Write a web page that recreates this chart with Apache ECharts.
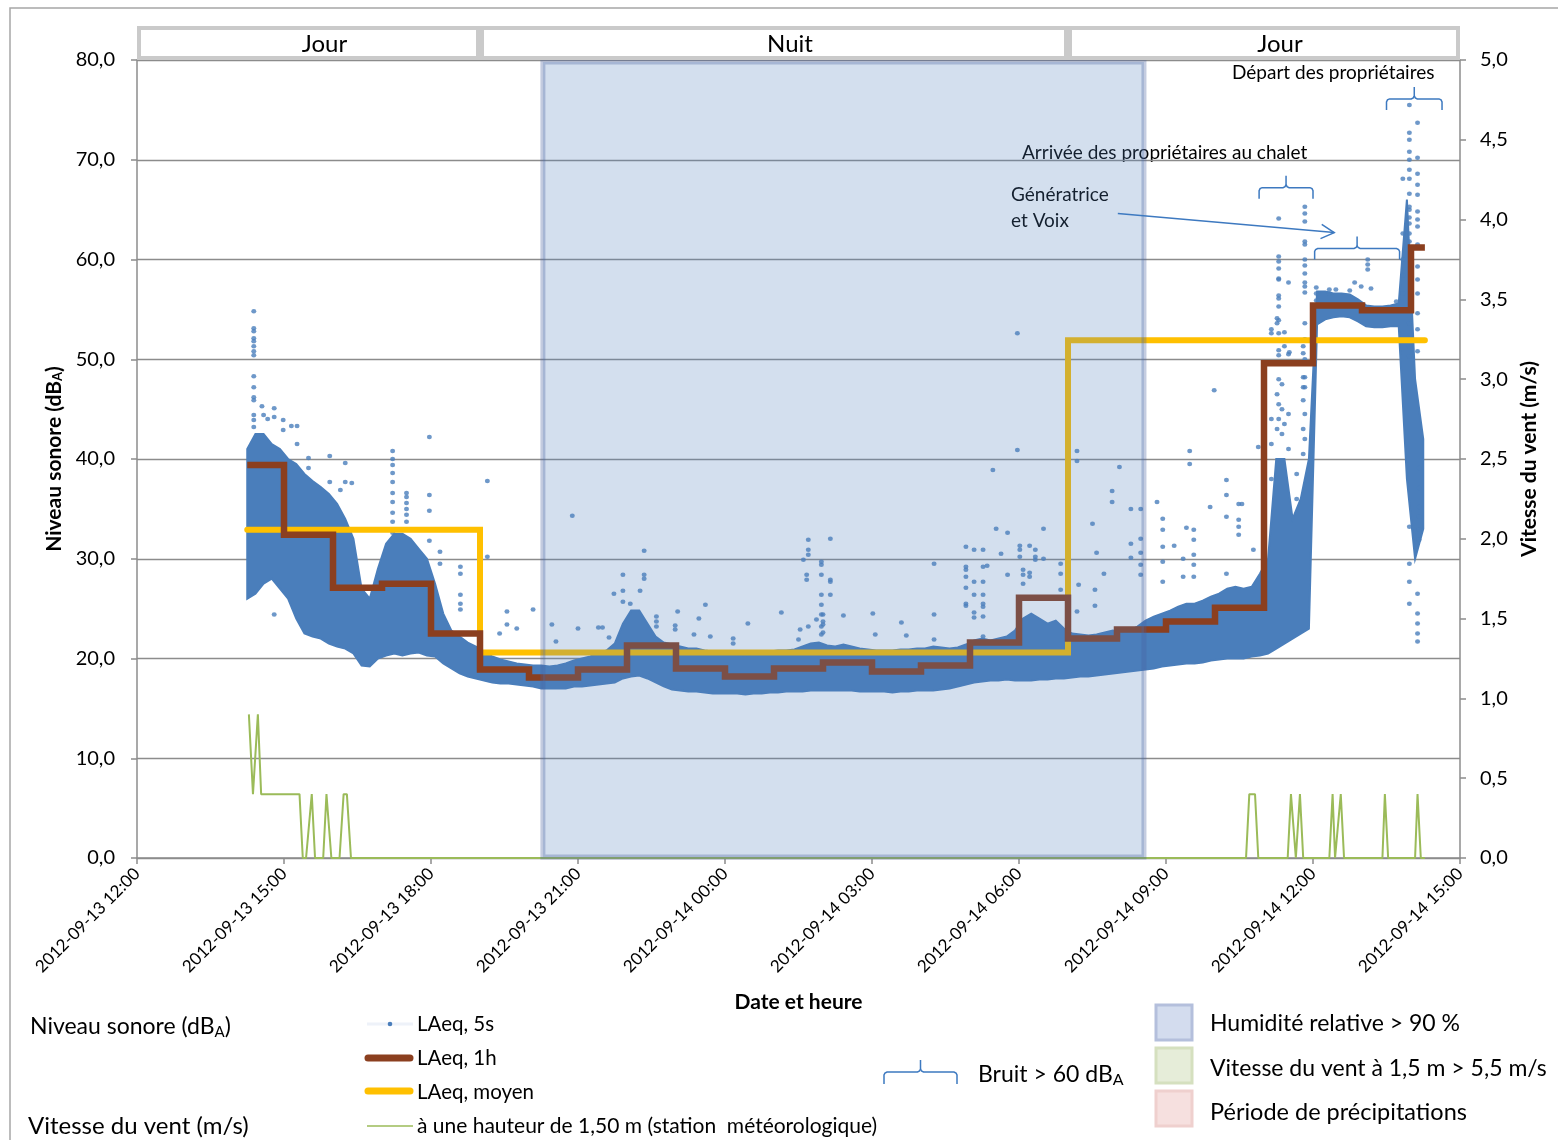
<!DOCTYPE html>
<html>
<head>
<meta charset="utf-8">
<script src="https://cdn.jsdelivr.net/npm/echarts@6/dist/echarts.min.js"></script>
<style>
  html, body { margin: 0; padding: 0; background: #fff; }
  #chart { width: 1558px; height: 1140px; }
</style>
</head>
<body>
<div id="chart"></div>
<script>
// ---- périodes jour / nuit (bandeau du haut)
const periodStarts = ['2012-09-13 12:00', '2012-09-13 19:00', '2012-09-14 07:00'];
const periodEnds = ['2012-09-13 19:00', '2012-09-14 07:00', '2012-09-14 15:00'];
const periodNames = ['Jour', 'Nuit', 'Jour'];

// ---- humidité relative > 90 %
const humidStarts = ['2012-09-13 20:17'];
const humidEnds = ['2012-09-14 08:33'];

// ---- LAeq 5s : coeur dense du nuage, relevé toutes les 10 min à partir de 14:15
const bandStart = '2012-09-13 14:15';
const bandLow = [
  26.0, 26.5, 27.5, 28.0, 27.0, 26.0, 24.0, 22.5, 22.2, 22.0, 21.5, 21.2, 21.0, 20.5, 19.3, 19.2,
  20.0, 20.3, 20.5, 20.3, 20.5, 20.6, 20.3, 20.2, 19.5, 19.0, 18.5, 18.2, 18.0, 17.8, 17.6, 17.5,
  17.5, 17.4, 17.3, 17.2, 17.0, 17.0, 17.0, 17.0, 17.2, 17.2, 17.3, 17.4, 17.5, 17.6, 18.0, 18.2,
  18.3, 18.0, 17.6, 17.2, 16.9, 16.8, 16.7, 16.7, 16.6, 16.5, 16.5, 16.5, 16.5, 16.4, 16.5, 16.5,
  16.6, 16.6, 16.7, 16.7, 16.7, 16.8, 16.8, 16.8, 16.8, 16.8, 16.8, 16.7, 16.7, 16.7, 16.7, 16.6,
  16.7, 16.7, 16.8, 16.8, 16.8, 16.9, 17.0, 17.2, 17.4, 17.6, 17.7, 17.8, 17.8, 17.9, 17.8, 17.8,
  17.8, 17.9, 17.9, 18.0, 18.0, 18.1, 18.2, 18.2, 18.3, 18.4, 18.5, 18.6, 18.7, 18.8, 18.9, 19.0,
  19.2, 19.3, 19.4, 19.5, 19.5, 19.6, 19.8, 19.9, 20.0, 20.0, 20.0, 20.2, 20.3, 20.5, 21.0, 21.5,
  22.0, 22.5, 23.0, 53.5, 54.0, 54.2, 54.3, 54.2, 53.8, 53.3, 53.2, 53.2, 53.3, 53.3, 38.0, 30.0,
  33.0
];
const bandHigh = [
  41.0, 42.5, 42.5, 41.5, 41.0, 40.0, 39.5, 38.5, 37.8, 37.2, 36.5, 35.5, 34.0, 32.0, 27.0, 26.0,
  29.0, 31.5, 32.5, 32.5, 32.0, 31.0, 30.0, 27.5, 24.5, 22.8, 22.2, 21.6, 21.2, 20.6, 20.2, 19.9,
  19.7, 19.5, 19.4, 19.3, 19.3, 19.2, 19.3, 19.5, 19.8, 20.0, 20.2, 20.5, 20.8, 21.5, 23.5, 24.8,
  24.8, 23.5, 22.2, 21.6, 21.4, 21.2, 21.0, 21.0, 20.8, 20.7, 20.6, 20.5, 20.4, 20.3, 20.5, 20.6,
  20.7, 20.8, 20.8, 20.9, 21.2, 21.5, 21.6, 21.3, 21.2, 21.4, 21.2, 21.0, 20.9, 20.8, 20.8, 20.8,
  20.9, 20.9, 21.0, 21.0, 21.2, 21.1, 21.0, 21.1, 21.4, 21.8, 22.0, 21.8, 22.0, 22.2, 22.8, 24.0,
  24.5, 24.0, 23.5, 23.8, 23.0, 22.5, 22.4, 22.3, 22.4, 22.6, 22.8, 22.6, 22.8, 23.2, 23.8, 24.2,
  24.5, 24.8, 25.2, 25.5, 25.5, 25.8, 26.2, 26.5, 27.0, 27.2, 27.0, 27.2, 28.5, 30.0, 40.0, 40.0,
  34.0, 36.0, 40.0, 56.8, 56.8, 56.6, 56.6, 56.5, 56.0, 55.4, 55.3, 55.3, 55.4, 55.6, 66.0, 48.0,
  42.0
];

// ---- LAeq 5s : points isolés au-dessus / au-dessous du coeur
const spikes = [
  ['2012-09-13 14:23', [54.8, 53.1, 52.8, 52.1, 51.8, 51.3, 50.8, 50.4, 48.3, 47.2, 46.2, 45.9, 44.4, 43.9, 43.2]],
  ['2012-09-13 14:33', [45.3]], ['2012-09-13 14:35', [44.4]], ['2012-09-13 14:40', [44.0]],
  ['2012-09-13 14:48', [45.1, 44.2, 24.4]], ['2012-09-13 14:59', [43.9, 42.9]],
  ['2012-09-13 15:09', [43.3]], ['2012-09-13 15:16', [43.3, 41.5]], ['2012-09-13 15:30', [40.1, 39.1]],
  ['2012-09-13 15:56', [40.3, 37.7]], ['2012-09-13 16:09', [36.9]], ['2012-09-13 16:15', [39.6, 37.7]],
  ['2012-09-13 16:23', [37.6]],
  ['2012-09-13 17:13', [40.8, 40.0, 39.4, 38.6, 37.7, 36.6, 35.7, 34.6, 33.7, 32.6]],
  ['2012-09-13 17:30', [36.6, 36.2, 35.6, 35.0, 34.4, 33.7]],
  ['2012-09-13 17:58', [42.2, 36.4, 34.8, 31.8]], ['2012-09-13 18:11', [30.7, 29.5]],
  ['2012-09-13 18:36', [29.2, 28.5, 26.4, 25.5, 24.9]], ['2012-09-13 19:09', [37.8, 30.2]],
  ['2012-09-13 19:24', [22.5]], ['2012-09-13 19:33', [24.7, 23.4]], ['2012-09-13 19:45', [23.0]],
  ['2012-09-13 20:05', [24.9]], ['2012-09-13 20:28', [23.4]], ['2012-09-13 20:33', [21.7]],
  ['2012-09-13 20:53', [34.3]], ['2012-09-13 21:00', [23.0]], ['2012-09-13 21:25', [23.1]],
  ['2012-09-13 21:30', [23.1]], ['2012-09-13 21:38', [22.1]], ['2012-09-13 21:44', [26.5]],
  ['2012-09-13 21:55', [28.4, 26.8, 25.7]], ['2012-09-13 22:04', [25.5]], ['2012-09-13 22:16', [26.8]],
  ['2012-09-13 22:21', [30.8, 28.4, 28.0]], ['2012-09-13 22:36', [24.2, 23.7, 23.2]],
  ['2012-09-13 22:59', [23.3, 22.9]], ['2012-09-13 23:02', [24.7]], ['2012-09-13 23:22', [22.4]],
  ['2012-09-13 23:28', [24.0]], ['2012-09-13 23:36', [25.4]], ['2012-09-13 23:42', [22.2]],
  ['2012-09-14 00:10', [22.0, 21.5]], ['2012-09-14 00:28', [23.5]], ['2012-09-14 01:09', [24.6]],
  ['2012-09-14 01:30', [21.9]], ['2012-09-14 01:32', [22.9]], ['2012-09-14 01:36', [29.9]],
  ['2012-09-14 01:40', [28.4, 27.9]], ['2012-09-14 01:42', [31.9, 30.9, 30.4, 23.2]],
  ['2012-09-14 01:52', [23.9]], ['2012-09-14 01:58', [29.7, 29.4, 28.4, 26.4, 25.4, 24.4, 23.2, 22.4]],
  ['2012-09-14 02:00', [24.4, 23.7, 23.4, 22.6]], ['2012-09-14 02:09', [32.0, 27.9, 27.7, 26.4]],
  ['2012-09-14 02:25', [24.3]], ['2012-09-14 03:01', [24.5]], ['2012-09-14 03:04', [22.4]],
  ['2012-09-14 03:36', [23.6]], ['2012-09-14 03:42', [22.3]], ['2012-09-14 04:16', [29.5, 24.4, 21.9]],
  ['2012-09-14 04:55', [31.2, 29.2, 28.9, 28.2, 27.1, 25.5, 25.3]],
  ['2012-09-14 05:05', [30.9, 27.7, 26.4, 24.6, 24.1]],
  ['2012-09-14 05:16', [30.9, 29.2, 27.7, 26.4, 25.5, 25.2, 24.2, 22.2]],
  ['2012-09-14 05:21', [29.3]], ['2012-09-14 05:28', [38.9]], ['2012-09-14 05:32', [33.0]],
  ['2012-09-14 05:38', [30.5]], ['2012-09-14 05:46', [32.6, 28.4]], ['2012-09-14 05:58', [52.6, 40.9]],
  ['2012-09-14 06:01', [31.3, 30.9, 30.2]], ['2012-09-14 06:05', [28.9, 28.4, 27.5]],
  ['2012-09-14 06:13', [31.3, 28.6, 28.2]], ['2012-09-14 06:20', [30.9, 30.2, 29.9]],
  ['2012-09-14 06:30', [33.0, 30.0]], ['2012-09-14 06:51', [29.5, 28.5, 26.9]],
  ['2012-09-14 07:11', [40.8, 39.8, 24.7]], ['2012-09-14 07:13', [27.4]], ['2012-09-14 07:30', [33.5]],
  ['2012-09-14 07:33', [26.9, 25.3]], ['2012-09-14 07:35', [30.6]], ['2012-09-14 07:44', [28.5]],
  ['2012-09-14 07:54', [36.8, 35.7]], ['2012-09-14 08:03', [39.2]], ['2012-09-14 08:17', [35.0, 31.5, 30.1]],
  ['2012-09-14 08:29', [35.0, 32.0, 30.6, 29.4, 28.4]], ['2012-09-14 08:49', [35.7]],
  ['2012-09-14 08:56', [34.0, 32.9, 31.2, 29.7, 27.7]], ['2012-09-14 09:10', [31.3]],
  ['2012-09-14 09:21', [30.0, 28.2]], ['2012-09-14 09:25', [33.1]], ['2012-09-14 09:29', [40.8, 39.5]],
  ['2012-09-14 09:34', [32.9, 31.9, 30.4, 29.4, 28.2]], ['2012-09-14 09:54', [35.2]],
  ['2012-09-14 09:59', [46.9]], ['2012-09-14 10:14', [37.9, 36.4, 34.2, 28.5]],
  ['2012-09-14 10:29', [35.5, 33.9, 33.2, 32.4]], ['2012-09-14 10:33', [35.5]],
  ['2012-09-14 10:47', [30.9]], ['2012-09-14 10:53', [41.2]],
  ['2012-09-14 11:09', [53.0, 52.6, 44.0, 41.5, 38.0]], ['2012-09-14 11:16', [54.1, 53.6, 46.5, 43.0]],
  ['2012-09-14 11:18', [64.1, 60.3, 59.8, 59.1, 58.1, 58.0, 56.4, 56.1, 55.3, 53.9, 52.6, 50.9, 50.4, 48.0, 45.5, 44.0]],
  ['2012-09-14 11:22', [47.5, 45.0, 42.5]], ['2012-09-14 11:25', [52.7, 51.3, 43.5]],
  ['2012-09-14 11:30', [57.7, 50.5, 44.5, 41.0]], ['2012-09-14 11:31', [50.7]],
  ['2012-09-14 11:40', [38.5, 36.0]], ['2012-09-14 11:48', [51.3, 50.6, 48.2, 47.2, 45.9, 43.0, 40.5]],
  ['2012-09-14 11:50', [65.3, 64.6, 63.8, 61.8, 61.5, 60.0, 59.4, 58.6, 57.7, 57.3, 56.7, 53.6, 52.0, 50.0, 48.2, 47.2, 44.5, 42.0]],
  ['2012-09-14 12:04', [57.2, 56.6, 55.9]], ['2012-09-14 12:20', [57.0, 56.6]], ['2012-09-14 12:28', [57.0]],
  ['2012-09-14 12:45', [56.9]], ['2012-09-14 12:51', [57.7]], ['2012-09-14 12:59', [57.3]],
  ['2012-09-14 13:07', [60.0, 59.5, 59.0]], ['2012-09-14 13:11', [57.1]], ['2012-09-14 13:42', [55.8]],
  ['2012-09-14 13:50', [68.1, 62.6, 60.0, 58.4, 56.6]],
  ['2012-09-14 13:58', [75.5, 72.7, 72.0, 70.8, 70.0, 69.0, 68.1, 66.6, 65.3, 65.0, 64.2, 63.6, 62.6, 61.8, 60.0, 58.3, 57.0, 55.9, 53.6, 51.3, 50.3, 33.2, 29.5, 27.7, 25.5]],
  ['2012-09-14 14:08', [73.7, 70.2, 68.6, 67.5, 66.5, 64.8, 64.0, 63.3, 61.5, 59.3, 58.0, 56.6, 54.6, 53.0, 51.9, 50.8, 26.5, 24.5, 23.5, 22.5, 21.7]],
  ['2012-09-14 14:10', [39.1, 37.1, 35.2, 34.2, 32.9, 31.9]]
];

// ---- LAeq 1h (paliers horaires) ; dernier point = fin de mesure
const laeq1hTimes = [
  '2012-09-13 14:15', '2012-09-13 15:00', '2012-09-13 16:00', '2012-09-13 17:00', '2012-09-13 18:00',
  '2012-09-13 19:00', '2012-09-13 20:00', '2012-09-13 21:00', '2012-09-13 22:00', '2012-09-13 23:00',
  '2012-09-14 00:00', '2012-09-14 01:00', '2012-09-14 02:00', '2012-09-14 03:00', '2012-09-14 04:00',
  '2012-09-14 05:00', '2012-09-14 06:00', '2012-09-14 07:00', '2012-09-14 08:00', '2012-09-14 09:00',
  '2012-09-14 10:00', '2012-09-14 11:00', '2012-09-14 12:00', '2012-09-14 13:00', '2012-09-14 14:00',
  '2012-09-14 14:17'
];
const laeq1hValues = [
  39.4, 32.4, 27.1, 27.5, 22.5, 18.9, 18.1, 18.9, 21.3, 19.0, 18.2, 19.0, 19.6, 18.7, 19.3,
  21.6, 26.1, 22.0, 22.9, 23.7, 25.1, 49.6, 55.4, 54.9, 61.2, 61.2
];

// ---- LAeq moyen (par période)
const laeqMeanTimes = ['2012-09-13 14:15', '2012-09-13 19:00', '2012-09-14 07:00', '2012-09-14 14:17'];
const laeqMeanValues = [32.9, 20.6, 51.9, 51.9];

// ---- vitesse du vent à 1,50 m (m/s)
const windTimes = [
  '2012-09-13 14:17', '2012-09-13 14:22', '2012-09-13 14:28', '2012-09-13 14:32', '2012-09-13 15:19',
  '2012-09-13 15:23', '2012-09-13 15:27', '2012-09-13 15:34', '2012-09-13 15:38', '2012-09-13 15:48',
  '2012-09-13 15:52', '2012-09-13 15:58', '2012-09-13 16:08', '2012-09-13 16:13', '2012-09-13 16:17',
  '2012-09-13 16:22', '2012-09-14 10:38', '2012-09-14 10:42', '2012-09-14 10:49', '2012-09-14 10:53',
  '2012-09-14 11:29', '2012-09-14 11:33', '2012-09-14 11:39', '2012-09-14 11:44', '2012-09-14 11:48',
  '2012-09-14 12:20', '2012-09-14 12:24', '2012-09-14 12:27', '2012-09-14 12:34', '2012-09-14 12:38',
  '2012-09-14 13:25', '2012-09-14 13:28', '2012-09-14 13:32', '2012-09-14 14:05', '2012-09-14 14:08',
  '2012-09-14 14:12', '2012-09-14 14:17'
];
const windValues = [
  0.9, 0.4, 0.9, 0.4, 0.4, 0, 0, 0.4, 0, 0, 0.4, 0, 0, 0.4, 0.4, 0,
  0, 0.4, 0.4, 0, 0, 0.4, 0, 0.4, 0, 0, 0.4, 0, 0.4, 0, 0, 0.4, 0, 0, 0.4, 0, 0
];

// ---- annotations : accolades "Bruit > 60 dBA" [début, fin, niveau] et flèche
const braceStarts = ['2012-09-14 10:54', '2012-09-14 12:02', '2012-09-14 13:30'];
const braceEnds = ['2012-09-14 12:00', '2012-09-14 13:46', '2012-09-14 14:38'];
const braceLevels = [67.2, 61.1, 76.1];
const arrowFrom = ['2012-09-14 08:01', 64.6];
const arrowTo = ['2012-09-14 12:26', 62.7];

// ---------------------------------------------------------------------------
const FONT = 'Lato, "Open Sans", "DejaVu Sans", sans-serif';
const BLUE = '#4a7ebb';
const GRID = '#8c8c8c';
const BRACE = '#3d79c0';
const MIN = 60000;

function ms(s) {
  const [d, h] = s.split(' ');
  const [Y, M, D] = d.split('-').map(Number);
  const [hh, mm] = h.split(':').map(Number);
  return Date.UTC(Y, M - 1, D, hh, mm);
}
const pad = (n) => String(n).padStart(2, '0');
function fmtDate(v) {
  const d = new Date(v);
  return d.getUTCFullYear() + '-' + pad(d.getUTCMonth() + 1) + '-' + pad(d.getUTCDate()) + ' ' +
    pad(d.getUTCHours()) + ':' + pad(d.getUTCMinutes());
}
const comma = (v) => v.toFixed(1).replace('.', ',');

const bandTimes = bandLow.map((_, i) => ms(bandStart) + i * 10 * MIN);
const spikeData = spikes.flatMap(([t, vals]) => vals.map((v) => [ms(t), v]));

// accolade : deux demi-polylignes (gauche, droite) autour du sommet central
function braceHalves(x1, x2, y, up, down) {
  const xm = (x1 + x2) / 2, r = 3;
  return [
    [[x1, y + down], [x1, y + r], [x1 + 1, y + 1], [x1 + r, y], [xm - r, y], [xm - 1, y - 1], [xm, y - r], [xm, y - up]],
    [[xm, y - r], [xm + 1, y - 1], [xm + r, y], [x2 - r, y], [x2 - 1, y + 1], [x2, y + r], [x2, y + down]]
  ];
}
function braceEls(x1, x2, y, up, down) {
  return braceHalves(x1, x2, y, up, down).map((pts) => ({
    type: 'polyline', silent: true, shape: { points: pts },
    style: { fill: null, stroke: BRACE, lineWidth: 1.5 }
  }));
}

function txt(x, y, text, size, extra) {
  return {
    type: 'text', x: x, y: y, silent: true,
    style: Object.assign({
      text: text, fontSize: size, fontFamily: FONT, fill: '#000', verticalAlign: 'middle'
    }, extra || {})
  };
}
const subRich = (size, subSize, weight) => ({
  n: { fontSize: size, fontFamily: FONT, fontWeight: weight || 'normal', color: '#000' },
  s: { fontSize: subSize, fontFamily: FONT, fontWeight: weight || 'normal', color: '#000',
       padding: [Math.round(size * 0.45), 0, 0, 0] }
});

const chart = echarts.init(document.getElementById('chart'), null, { renderer: 'canvas' });

chart.setOption({
  animation: false,
  backgroundColor: '#fff',
  grid: { left: 137, right: 98, top: 60, bottom: 282, containLabel: false },
  xAxis: {
    type: 'value',
    min: ms('2012-09-13 12:00'),
    max: ms('2012-09-14 15:00'),
    interval: 180 * MIN,
    axisLine: { show: true, onZero: false, lineStyle: { color: GRID, width: 1.5 } },
    axisTick: { show: true, length: 6, lineStyle: { color: GRID, width: 1.5 } },
    splitLine: { show: false },
    axisLabel: { rotate: 45, margin: 13, fontSize: 17, fontFamily: FONT, color: '#000', formatter: fmtDate },
    name: 'Date et heure',
    nameLocation: 'middle',
    nameGap: 134,
    nameTextStyle: { fontSize: 21, fontWeight: 'bold', fontFamily: FONT, color: '#000' }
  },
  yAxis: [
    {
      type: 'value', min: 0, max: 80, interval: 10, position: 'left',
      axisLine: { show: true, lineStyle: { color: GRID, width: 1.5 } },
      axisTick: { show: true, length: 6, lineStyle: { color: GRID, width: 1.5 } },
      splitLine: { show: true, lineStyle: { color: GRID, width: 1.3 } },
      axisLabel: { margin: 22, fontSize: 20, fontFamily: FONT, color: '#000', formatter: comma },
      name: '{n|Niveau sonore (dB}{s|A}{n|)}',
      nameLocation: 'middle', nameRotate: 90, nameGap: 71,
      nameTextStyle: { rich: subRich(21, 13, 'bold') }
    },
    {
      type: 'value', min: 0, max: 5, interval: 0.5, position: 'right',
      axisLine: { show: true, lineStyle: { color: GRID, width: 1.5 } },
      axisTick: { show: true, length: 6, lineStyle: { color: GRID, width: 1.5 } },
      splitLine: { show: false },
      axisLabel: { margin: 20, fontSize: 20, fontFamily: FONT, color: '#000', formatter: comma },
      name: 'Vitesse du vent (m/s)',
      nameLocation: 'middle', nameRotate: 90, nameGap: 59,
      nameTextStyle: { fontSize: 21, fontWeight: 'bold', fontFamily: FONT, color: '#000' }
    }
  ],
  series: [
    {
      // coeur dense du nuage LAeq 5s
      name: 'LAeq, 5s (coeur)', type: 'custom', z: 2, silent: true,
      data: bandTimes.map((t, i) => [t, bandLow[i], bandHigh[i]]),
      encode: { x: 0, y: [1, 2] },
      renderItem(params, api) {
        if (params.dataIndex !== 0) return null;
        const top = bandTimes.map((t, i) => api.coord([t, bandHigh[i]]));
        const bottom = bandTimes.map((t, i) => api.coord([t, bandLow[i]])).reverse();
        return {
          type: 'polygon',
          shape: { points: top.concat(bottom) },
          style: { fill: BLUE, stroke: BLUE, lineWidth: 2 }
        };
      }
    },
    {
      name: 'LAeq, 5s', type: 'scatter', z: 3, silent: true,
      symbol: 'circle', symbolSize: [5, 4.5],
      itemStyle: { color: BLUE },
      data: spikeData
    },
    {
      name: 'LAeq, moyen', type: 'line', z: 4, silent: true, step: 'end', showSymbol: false,
      lineStyle: { color: '#ffc000', width: 6, cap: 'round', join: 'miter' },
      data: laeqMeanTimes.map((t, i) => [ms(t), laeqMeanValues[i]])
    },
    {
      name: 'LAeq, 1h', type: 'line', z: 5, silent: true, step: 'end', showSymbol: false,
      lineStyle: { color: '#8b3f1f', width: 6.5, cap: 'butt', join: 'miter' },
      data: laeq1hTimes.map((t, i) => [ms(t), laeq1hValues[i]])
    },
    {
      name: 'Vent', type: 'line', yAxisIndex: 1, z: 5, silent: true, showSymbol: false,
      lineStyle: { color: '#9bbb59', width: 2 },
      data: windTimes.map((t, i) => [ms(t), windValues[i]])
    },
    {
      // humidité relative > 90 % (voile par-dessus les données)
      name: 'Humidité', type: 'custom', z: 8, silent: true, clip: false,
      data: humidStarts.map((s, i) => [ms(s), ms(humidEnds[i])]),
      encode: { x: [0, 1] },
      renderItem(params, api) {
        const a = api.coord([api.value(0), 80]);
        const b = api.coord([api.value(1), 0]);
        return {
          type: 'rect',
          shape: { x: a[0], y: a[1] + 2, width: b[0] - a[0], height: b[1] - a[1] - 3 },
          style: { fill: 'rgba(79,129,189,0.25)', stroke: 'rgba(70,95,160,0.32)', lineWidth: 5 }
        };
      }
    },
    {
      // bandeau Jour / Nuit
      name: 'Périodes', type: 'custom', z: 8, silent: true, clip: false,
      data: periodStarts.map((s, i) => [ms(s), ms(periodEnds[i])]),
      encode: { x: [0, 1] },
      renderItem(params, api) {
        const x1 = api.coord([api.value(0), 80])[0];
        const x2 = api.coord([api.value(1), 80])[0];
        const top = params.coordSys.y;
        return {
          type: 'group',
          children: [
            {
              type: 'rect',
              shape: { x: x1 + 2, y: top - 32, width: x2 - x1 - 4, height: 30 },
              style: { fill: '#fff', stroke: '#cacaca', lineWidth: 4 }
            },
            {
              type: 'text',
              style: {
                text: periodNames[params.dataIndex], x: (x1 + x2) / 2 + 16, y: top - 16,
                align: 'center', verticalAlign: 'middle', fontSize: 24, fontFamily: FONT, fill: '#000'
              }
            }
          ]
        };
      }
    },
    {
      // accolades bruit > 60 dBA
      name: 'Bruit > 60 dBA', type: 'custom', z: 9, silent: true, clip: false,
      data: braceStarts.map((s, i) => [ms(s), ms(braceEnds[i]), braceLevels[i]]),
      encode: { x: [0, 1], y: 2 },
      renderItem(params, api) {
        const p1 = api.coord([api.value(0), api.value(2)]);
        const p2 = api.coord([api.value(1), api.value(2)]);
        return { type: 'group', children: braceEls(p1[0], p2[0], p1[1], 12, 11) };
      }
    },
    {
      name: 'Flèche', type: 'custom', z: 9, silent: true, clip: false,
      data: [[ms(arrowFrom[0]), arrowFrom[1], ms(arrowTo[0]), arrowTo[1]]],
      encode: { x: [0, 2], y: [1, 3] },
      renderItem(params, api) {
        const a = api.coord([api.value(0), api.value(1)]);
        const b = api.coord([api.value(2), api.value(3)]);
        const ang = Math.atan2(b[1] - a[1], b[0] - a[0]);
        const L = 15, w = 0.5;
        const h1 = [b[0] - L * Math.cos(ang - w), b[1] - L * Math.sin(ang - w)];
        const h2 = [b[0] - L * Math.cos(ang + w), b[1] - L * Math.sin(ang + w)];
        return {
          type: 'group',
          children: [
            { type: 'line', shape: { x1: a[0], y1: a[1], x2: b[0], y2: b[1] },
              style: { stroke: BRACE, lineWidth: 1.5 } },
            { type: 'polyline', shape: { points: [h1, b, h2] },
              style: { fill: null, stroke: BRACE, lineWidth: 1.5 } }
          ]
        };
      }
    }
  ],
  graphic: [
    // cadre extérieur
    { type: 'rect', z: -10, silent: true, shape: { x: 10, y: 8, width: 1600, height: 1200 },
      style: { fill: null, stroke: '#a6a6a6', lineWidth: 1.5 } },
    // textes d'annotation
    txt(1232, 73, 'Départ des propriétaires', 19),
    txt(1022, 153, 'Arrivée des propriétaires au chalet', 19),
    txt(1011, 195, 'Génératrice', 19),
    txt(1011, 221, 'et Voix', 19),
    // légende gauche
    txt(30, 1027, '{n|Niveau sonore (dB}{s|A}{n|)}', 23, { rich: subRich(23, 15) }),
    txt(28, 1126, 'Vitesse du vent (m/s)', 24),
    { type: 'line', silent: true, shape: { x1: 367, y1: 1024, x2: 413, y2: 1024 },
      style: { stroke: '#eef2f9', lineWidth: 3 } },
    { type: 'circle', silent: true, shape: { cx: 390, cy: 1024, r: 2.3 }, style: { fill: BLUE } },
    txt(417, 1024, 'LAeq, 5s', 20.5),
    { type: 'line', silent: true, shape: { x1: 368, y1: 1058, x2: 410, y2: 1058 },
      style: { stroke: '#8b3f1f', lineWidth: 7, lineCap: 'round' } },
    txt(417, 1058, 'LAeq, 1h', 20.5),
    { type: 'line', silent: true, shape: { x1: 368, y1: 1091, x2: 410, y2: 1091 },
      style: { stroke: '#ffc000', lineWidth: 7, lineCap: 'round' } },
    txt(417, 1092, 'LAeq, moyen', 20.5),
    { type: 'line', silent: true, shape: { x1: 367, y1: 1126, x2: 413, y2: 1126 },
      style: { stroke: '#9bbb59', lineWidth: 1.5 } },
    txt(417, 1126, 'à une hauteur de 1,50 m (station  météorologique)', 21),
    // légende accolade
    ...braceEls(884, 957, 1072, 12, 12),
    txt(978, 1075, '{n|Bruit > 60 dB}{s|A}', 23, { rich: subRich(23, 16) }),
    // légende carrés
    { type: 'rect', silent: true, shape: { x: 1156, y: 1005, width: 36, height: 35 },
      style: { fill: '#d3dcee', stroke: '#b4bfdc', lineWidth: 3 } },
    txt(1210, 1024, 'Humidité relative > 90 %', 23),
    { type: 'rect', silent: true, shape: { x: 1156, y: 1048, width: 36, height: 35 },
      style: { fill: '#e6edd9', stroke: '#d5e0bf', lineWidth: 3 } },
    txt(1210, 1069, 'Vitesse du vent à 1,5 m > 5,5 m/s', 23),
    { type: 'rect', silent: true, shape: { x: 1156, y: 1091, width: 36, height: 35 },
      style: { fill: '#f6e0df', stroke: '#efd0ce', lineWidth: 3 } },
    txt(1210, 1112, 'Période de précipitations', 23.5)
  ]
});
</script>
</body>
</html>
